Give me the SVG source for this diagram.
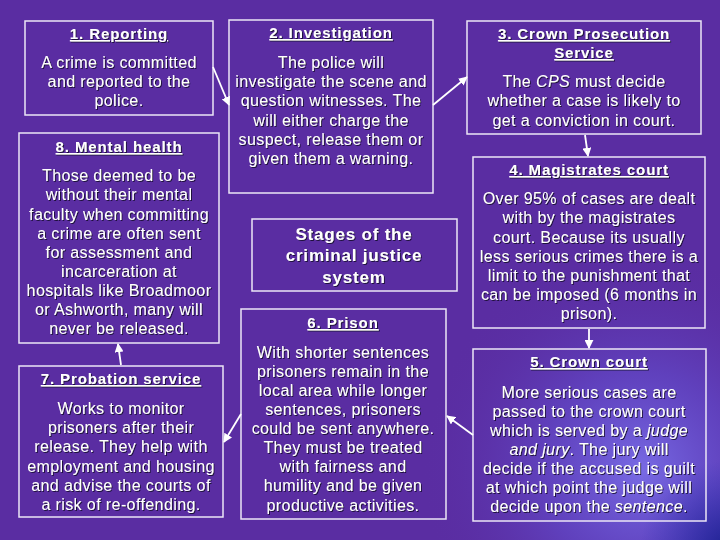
<svg xmlns="http://www.w3.org/2000/svg" width="720" height="540" viewBox="0 0 720 540">
<defs>
<radialGradient id="glow" cx="640" cy="470" r="220" gradientUnits="userSpaceOnUse">
<stop offset="0" stop-color="#7a6ee8" stop-opacity="0.95"/>
<stop offset="0.45" stop-color="#6450d2" stop-opacity="0.55"/>
<stop offset="1" stop-color="#5a2da2" stop-opacity="0"/>
</radialGradient>
<radialGradient id="corner" cx="730" cy="550" r="90" gradientUnits="userSpaceOnUse">
<stop offset="0" stop-color="#1a2090" stop-opacity="1"/>
<stop offset="1" stop-color="#2a30b0" stop-opacity="0"/>
</radialGradient>
<filter id="sh" x="-5%" y="-20%" width="110%" height="140%">
<feDropShadow dx="1" dy="1" stdDeviation="0.4" flood-color="#140a30" flood-opacity="0.9"/>
</filter>
<marker id="ah" viewBox="0 0 10 10" refX="9" refY="5" markerWidth="5" markerHeight="5" orient="auto-start-reverse">
<path d="M0,0 L10,5 L0,10 z" fill="#ffffff"/>
</marker>
</defs>
<style>
.box{fill:none;stroke:#ece6f6;stroke-width:1.5}
.t{font-family:"Liberation Sans",Arial,sans-serif;font-size:15px;font-weight:bold;fill:#ffffff;text-anchor:middle;text-decoration:underline;letter-spacing:0.9px;filter:url(#sh)}
.b{font-family:"Liberation Sans",Arial,sans-serif;font-size:16px;fill:#ffffff;text-anchor:middle;letter-spacing:0.4px;filter:url(#sh)}
.c{font-family:"Liberation Sans",Arial,sans-serif;font-size:17px;font-weight:bold;fill:#ffffff;text-anchor:middle;letter-spacing:0.8px;filter:url(#sh)}
.i{font-style:italic}
.conn line{stroke:#ffffff;stroke-width:1.8;marker-end:url(#ah)}
</style>
<rect x="0" y="0" width="720" height="540" fill="#5a2da2"/>
<rect x="0" y="0" width="720" height="540" fill="url(#glow)"/>
<rect x="0" y="0" width="720" height="540" fill="url(#corner)"/>

<g id="n1">
<rect class="box" x="25" y="21" width="188" height="94"/>
<text class="t" x="119" y="39">1. Reporting</text>
<text class="b" x="119" y="68">A crime is committed</text>
<text class="b" x="119" y="87">and reported to the</text>
<text class="b" x="119" y="106">police.</text>
</g>

<g id="n2">
<rect class="box" x="229" y="20" width="204" height="173"/>
<text class="t" x="331" y="38">2. Investigation</text>
<text class="b" x="331" y="68">The police will</text>
<text class="b" x="331" y="87">investigate the scene and</text>
<text class="b" x="331" y="106">question witnesses.  The</text>
<text class="b" x="331" y="126">will either charge the</text>
<text class="b" x="331" y="145">suspect, release them or</text>
<text class="b" x="331" y="164">given them a warning.</text>
</g>

<g id="n3">
<rect class="box" x="467" y="21" width="234" height="113"/>
<text class="t" x="584" y="39">3. Crown Prosecution</text>
<text class="t" x="584" y="58">Service</text>
<text class="b" x="584" y="87">The <tspan class="i">CPS</tspan> must decide</text>
<text class="b" x="584" y="106">whether a case is likely to</text>
<text class="b" x="584" y="126">get a conviction in court.</text>
</g>

<g id="n4">
<rect class="box" x="473" y="157" width="232" height="171"/>
<text class="t" x="589" y="175">4. Magistrates court</text>
<text class="b" x="589" y="204">Over 95% of cases are dealt</text>
<text class="b" x="589" y="223">with by the magistrates</text>
<text class="b" x="589" y="243">court.  Because its usually</text>
<text class="b" x="589" y="262">less serious crimes there is a</text>
<text class="b" x="589" y="281">limit to the punishment that</text>
<text class="b" x="589" y="300">can be imposed (6 months in</text>
<text class="b" x="589" y="319">prison).</text>
</g>

<g id="n5">
<rect class="box" x="473" y="349" width="233" height="172"/>
<text class="t" x="589" y="367">5. Crown court</text>
<text class="b" x="589" y="398">More serious cases are</text>
<text class="b" x="589" y="417">passed to the crown court</text>
<text class="b" x="589" y="436">which is served by a <tspan class="i">judge</tspan></text>
<text class="b" x="589" y="455"><tspan class="i">and jury</tspan>. The jury will</text>
<text class="b" x="589" y="474">decide if the accused is guilt</text>
<text class="b" x="589" y="493">at which point the judge will</text>
<text class="b" x="589" y="512">decide upon the <tspan class="i">sentence</tspan>.</text>
</g>

<g id="n6">
<rect class="box" x="241" y="309" width="205" height="210"/>
<text class="t" x="343" y="328">6. Prison</text>
<text class="b" x="343" y="358">With shorter sentences</text>
<text class="b" x="343" y="377">prisoners remain in the</text>
<text class="b" x="343" y="396">local area while longer</text>
<text class="b" x="343" y="415">sentences, prisoners</text>
<text class="b" x="343" y="434">could be sent anywhere.</text>
<text class="b" x="343" y="453">They must be treated</text>
<text class="b" x="343" y="472">with fairness and</text>
<text class="b" x="343" y="491">humility and be given</text>
<text class="b" x="343" y="511">productive activities.</text>
</g>

<g id="n7">
<rect class="box" x="19" y="366" width="204" height="151"/>
<text class="t" x="121" y="384">7. Probation service</text>
<text class="b" x="121" y="414">Works to monitor</text>
<text class="b" x="121" y="433">prisoners after their</text>
<text class="b" x="121" y="452">release.  They help with</text>
<text class="b" x="121" y="472">employment and housing</text>
<text class="b" x="121" y="491">and advise the courts of</text>
<text class="b" x="121" y="510">a risk of re-offending.</text>
</g>

<g id="n8">
<rect class="box" x="19" y="133" width="200" height="210"/>
<text class="t" x="119" y="152">8. Mental health</text>
<text class="b" x="119" y="181">Those deemed to be</text>
<text class="b" x="119" y="200">without their mental</text>
<text class="b" x="119" y="220">faculty when committing</text>
<text class="b" x="119" y="239">a crime are often sent</text>
<text class="b" x="119" y="258">for assessment and</text>
<text class="b" x="119" y="277">incarceration at</text>
<text class="b" x="119" y="296">hospitals like Broadmoor</text>
<text class="b" x="119" y="315">or Ashworth, many will</text>
<text class="b" x="119" y="334">never be released.</text>
</g>

<g id="title">
<rect class="box" x="252" y="219" width="205" height="72"/>
<text class="c" x="354" y="240">Stages of the</text>
<text class="c" x="354" y="261">criminal justice</text>
<text class="c" x="354" y="283">system</text>
</g>

<g id="connectors" class="conn">
<line x1="213" y1="67" x2="229" y2="105"/>
<line x1="433" y1="105" x2="467" y2="77"/>
<line x1="585" y1="135" x2="588" y2="156"/>
<line x1="589" y1="329" x2="589" y2="348"/>
<line x1="473" y1="435" x2="447" y2="416"/>
<line x1="241" y1="414" x2="224" y2="442"/>
<line x1="121" y1="365" x2="118" y2="344"/>
</g>
</svg>
